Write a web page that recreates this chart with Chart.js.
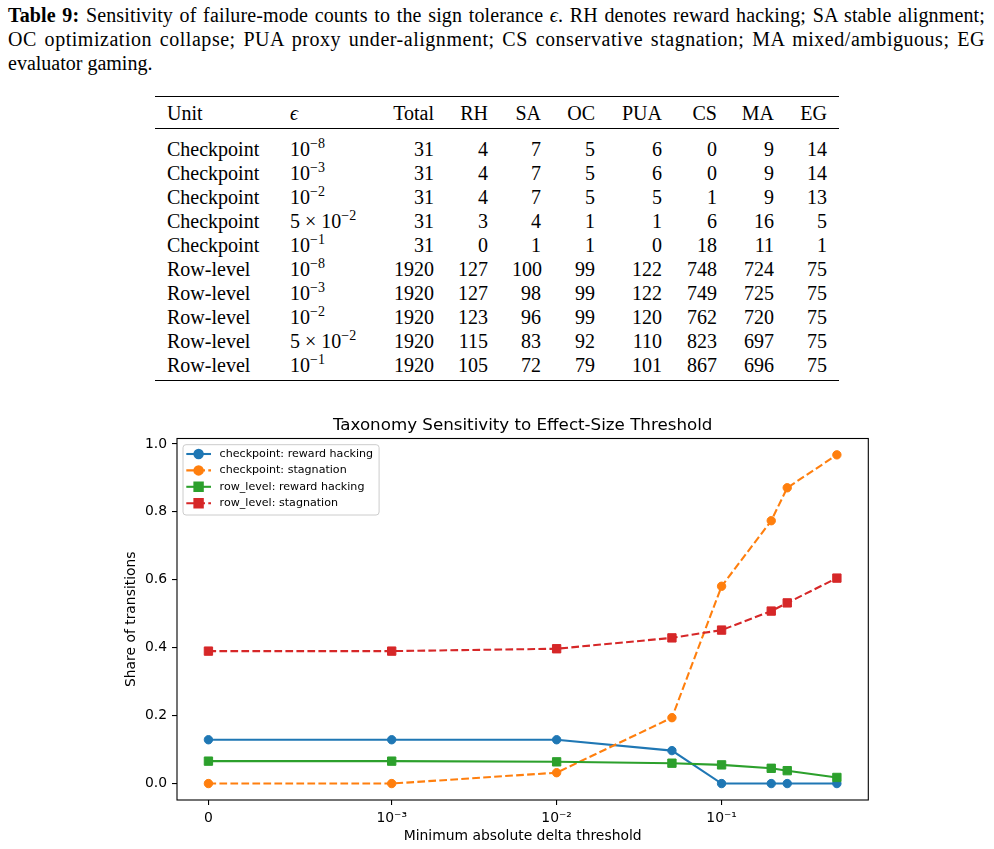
<!DOCTYPE html>
<html>
<head>
<meta charset="utf-8">
<script src="https://cdn.jsdelivr.net/npm/chart.js@4.4.1/dist/chart.umd.min.js"></script>
<style>
html, body { margin: 0; padding: 0; background: #fff; }
body { width: 994px; height: 849px; position: relative; overflow: hidden;
       font-family: "Liberation Serif", "Times New Roman", serif; color: #000; }
#caption { position: absolute; left: 8px; top: 3px; width: 977px; font-size: 20px; line-height: 24px; }
#caption .j { text-align: justify; text-align-last: justify; white-space: nowrap; }
#tbl { position: absolute; left: 155px; top: 96px; width: 684px; table-layout: fixed;
       border-collapse: collapse; font-size: 20px;
       border-top: 1.6px solid #000; border-bottom: 1.6px solid #000; }
#tbl th, #tbl td { padding: 0 12px; line-height: 24px; font-weight: normal; white-space: nowrap; text-align: right; }
#tbl th.l, #tbl td.l { text-align: left; }
#tbl thead th { padding-top: 4px; padding-bottom: 3px; border-bottom: 1px solid #000; }
#tbl tbody tr:first-child td { padding-top: 8px; }
#tbl tbody tr:last-child td { padding-bottom: 3px; }
.sup { font-size: 14px; position: relative; top: -8px; line-height: 0; }
#c { position: absolute; left: 0; top: 400px; }
</style>
</head>
<body>
<div id="caption">
  <div class="j"><b>Table 9:</b> Sensitivity of failure-mode counts to the sign tolerance <i>ϵ</i>. RH denotes reward hacking; SA stable alignment;</div>
  <div class="j">OC optimization collapse; PUA proxy under-alignment; CS conservative stagnation; MA mixed/ambiguous; EG</div>
  <div>evaluator gaming.</div>
</div>

<table id="tbl">
  <colgroup>
    <col style="width:123px"><col style="width:96px"><col style="width:72px"><col style="width:54px">
    <col style="width:53px"><col style="width:54px"><col style="width:67px"><col style="width:55px">
    <col style="width:57px"><col style="width:53px">
  </colgroup>
  <thead><tr id="head"></tr></thead>
  <tbody id="body"></tbody>
</table>

<canvas id="c" width="994" height="449"></canvas>

<script>
// tabel
const tableHeader = ['Unit', 'ϵ', 'Total', 'RH', 'SA', 'OC', 'PUA', 'CS', 'MA', 'EG'];
const tableUnits = ['Checkpoint', 'Checkpoint', 'Checkpoint', 'Checkpoint', 'Checkpoint',
                    'Row-level', 'Row-level', 'Row-level', 'Row-level', 'Row-level'];
const tableEpsBase = ['10', '10', '10', '5 × 10', '10', '10', '10', '10', '5 × 10', '10'];
const tableEpsExp = ['−8', '−3', '−2', '−2', '−1', '−8', '−3', '−2', '−2', '−1'];
const tableCounts = [
    [31, 4, 7, 5, 6, 0, 9, 14],
    [31, 4, 7, 5, 6, 0, 9, 14],
    [31, 4, 7, 5, 5, 1, 9, 13],
    [31, 3, 4, 1, 1, 6, 16, 5],
    [31, 0, 1, 1, 0, 18, 11, 1],
    [1920, 127, 100, 99, 122, 748, 724, 75],
    [1920, 127, 98, 99, 122, 749, 725, 75],
    [1920, 123, 96, 99, 120, 762, 720, 75],
    [1920, 115, 83, 92, 110, 823, 697, 75],
    [1920, 105, 72, 79, 101, 867, 696, 75]
];

// grafiek
const chartTitle = 'Taxonomy Sensitivity to Effect-Size Threshold';
const xTitle = 'Minimum absolute delta threshold';
const yTitle = 'Share of transitions';
const thresholds = [0, 0.001, 0.01, 0.05, 0.1, 0.2, 0.25, 0.5];
const ckptRewardHacking = [0.129, 0.129, 0.129, 0.097, 0, 0, 0, 0];
const ckptStagnation = [0, 0, 0.032, 0.194, 0.581, 0.774, 0.871, 0.968];
const rowRewardHacking = [0.066, 0.066, 0.064, 0.060, 0.055, 0.045, 0.038, 0.018];
const rowStagnation = [0.390, 0.390, 0.397, 0.429, 0.452, 0.508, 0.532, 0.605];
const seriesLabels = ['checkpoint: reward hacking', 'checkpoint: stagnation',
                      'row_level: reward hacking', 'row_level: stagnation'];
const xTickValues = [0, 0.001, 0.01, 0.1];
const xTickLabels = ['0', '10⁻³', '10⁻²', '10⁻¹'];
const yTickValues = [0, 0.2, 0.4, 0.6, 0.8, 1.0];
const yMin = -0.0484, yMax = 1.0161;

// bijschrift: per regel een kleine letterafstand, zodat de spaties niet te breed worden
const caption = document.getElementById('caption');
caption.querySelectorAll('.j').forEach(d => {
    const probe = document.createElement('span');
    probe.innerHTML = d.innerHTML;
    probe.style.whiteSpace = 'nowrap';
    probe.style.position = 'absolute';
    probe.style.visibility = 'hidden';
    caption.appendChild(probe);
    const w = probe.getBoundingClientRect().width;
    const n = d.textContent.trim().length;
    caption.removeChild(probe);
    const s = Math.min(0.6, Math.max(0, (977 - w - 25) / n));
    d.style.letterSpacing = s.toFixed(2) + 'px';
});

// tabel opbouwen
const headRow = document.getElementById('head');
tableHeader.forEach((h, i) => {
    const th = document.createElement('th');
    if (i < 2) th.className = 'l';
    if (i === 1) th.innerHTML = '<i>' + h + '</i>';
    else th.textContent = h;
    headRow.appendChild(th);
});
const tbody = document.getElementById('body');
tableUnits.forEach((u, r) => {
    const tr = document.createElement('tr');
    let html = '<td class="l">' + u + '</td>';
    html += '<td class="l">' + tableEpsBase[r] + '<span class="sup">' + tableEpsExp[r] + '</span></td>';
    tableCounts[r].forEach(v => { html += '<td>' + v + '</td>'; });
    tr.innerHTML = html;
    tbody.appendChild(tr);
});

// symlog schaal (linthresh 1e-3, linscale 1), zoals matplotlib
const SYM_C = 1e-3, SYM_K = 1 / (1 - 1 / 10);
function symT(v) {
    const a = Math.abs(v);
    return a <= SYM_C ? v / SYM_C * SYM_K : Math.sign(v) * (SYM_K + Math.log10(a / SYM_C));
}
function symInv(t) {
    const a = Math.abs(t);
    return a <= SYM_K ? t / SYM_K * SYM_C : Math.sign(t) * SYM_C * Math.pow(10, a - SYM_K);
}
class SymlogScale extends Chart.LinearScale {
    buildTicks() {
        return xTickValues.map(v => ({ value: v }));
    }
    configure() {
        super.configure();
        const a = symT(this.min), b = symT(this.max), m = (b - a) * 0.05;
        this._t0 = a - m;
        this._t1 = b + m;
    }
    getPixelForValue(v) {
        return this.getPixelForDecimal((symT(v) - this._t0) / (this._t1 - this._t0));
    }
    getValueForPixel(p) {
        return symInv(this._t0 + this.getDecimalForPixel(p) * (this._t1 - this._t0));
    }
}
SymlogScale.id = 'symlog';
Chart.register(SymlogScale);

const colors = ['#1f77b4', '#ff7f0e', '#2ca02c', '#d62728'];
const markers = ['circle', 'circle', 'rect', 'rect'];
const dashed = [false, true, false, true];
const values = [ckptRewardHacking, ckptStagnation, rowRewardHacking, rowStagnation];
const DASH = [7.7, 3.3];

const datasets = values.map((vals, i) => ({
    label: seriesLabels[i],
    data: thresholds.map((x, j) => ({ x: x, y: vals[j] })),
    borderColor: colors[i],
    backgroundColor: colors[i],
    borderWidth: 2.08,
    borderDash: dashed[i] ? DASH : [],
    pointStyle: markers[i],
    pointRadius: markers[i] === 'circle' ? 4.2 : 5.9,
    pointBorderWidth: 1,
    pointBackgroundColor: colors[i],
    pointBorderColor: colors[i],
    tension: 0,
    fill: false,
    order: 4 - i
}));

const tickFont = { family: 'DejaVu Sans', size: 13.9 };

// titel gecentreerd boven de assen, kader rond het plotgebied, legenda binnen de assen
const framePlugin = {
    id: 'frameAndLegend',
    afterDatasetsDraw(chart) {
        const ctx = chart.ctx, a = chart.chartArea;
        ctx.save();
        ctx.strokeStyle = '#000';
        ctx.lineWidth = 1.1;
        ctx.strokeRect(a.left, a.top, a.right - a.left, a.bottom - a.top);

        ctx.fillStyle = '#000';
        ctx.font = '16.7px "DejaVu Sans"';
        ctx.textAlign = 'center';
        ctx.textBaseline = 'alphabetic';
        ctx.fillText(chartTitle, (a.left + a.right) / 2, a.top - 8.3);

        // legenda
        ctx.font = '11.1px "DejaVu Sans"';
        let maxW = 0;
        seriesLabels.forEach(l => { maxW = Math.max(maxW, ctx.measureText(l).width); });
        const lx = a.left + 6, ly = a.top + 6.2;
        const w = 36.6 + maxW + 6, h = 70.3;
        ctx.beginPath();
        ctx.roundRect(lx, ly, w, h, 3);
        ctx.fillStyle = 'rgba(255,255,255,0.8)';
        ctx.fill();
        ctx.strokeStyle = '#cccccc';
        ctx.lineWidth = 1;
        ctx.stroke();
        seriesLabels.forEach((l, i) => {
            const y = ly + 9.3 + i * 16.4;
            ctx.strokeStyle = colors[i];
            ctx.lineWidth = 2.08;
            ctx.setLineDash(dashed[i] ? DASH : []);
            ctx.beginPath();
            ctx.moveTo(lx + 3.3, y);
            ctx.lineTo(lx + 28, y);
            ctx.stroke();
            ctx.setLineDash([]);
            ctx.fillStyle = colors[i];
            Chart.helpers.drawPoint(ctx, {
                pointStyle: markers[i],
                radius: markers[i] === 'circle' ? 4.2 : 5.9,
                borderWidth: 1
            }, lx + 15.6, y);
            ctx.fillStyle = '#000';
            ctx.textBaseline = 'middle';
            ctx.textAlign = 'left';
            ctx.fillText(l, lx + 36.6, y);
        });
        ctx.restore();
    }
};

new Chart(document.getElementById('c'), {
    type: 'line',
    data: { datasets: datasets },
    options: {
        responsive: false,
        animation: false,
        events: [],
        layout: { padding: { left: 0, right: 125.7, top: 38.5, bottom: 0 } },
        plugins: {
            legend: { display: false },
            tooltip: { enabled: false },
            title: { display: false }
        },
        scales: {
            x: {
                type: 'symlog',
                position: 'bottom',
                border: { display: false },
                grid: { drawOnChartArea: false, drawTicks: true, tickLength: 5, color: '#000', lineWidth: 1.1 },
                ticks: {
                    autoSkip: false, maxRotation: 0, padding: 5, color: '#000', font: tickFont,
                    callback: (v, i) => xTickLabels[i]
                },
                title: { display: true, text: xTitle, color: '#000', font: tickFont, padding: { top: 0, bottom: 4 } },
                afterFit: s => { s.height = 49; }
            },
            y: {
                type: 'linear',
                min: yMin,
                max: yMax,
                border: { display: false },
                grid: { drawOnChartArea: false, drawTicks: true, tickLength: 5, color: '#000', lineWidth: 1.1 },
                afterBuildTicks: s => { s.ticks = yTickValues.map(v => ({ value: v })); },
                ticks: { padding: 5, color: '#000', font: tickFont, callback: v => v.toFixed(1) },
                title: { display: true, text: yTitle, color: '#000', font: tickFont, padding: { top: 122.7, bottom: 0 } },
                afterFit: s => { s.width = 177; }
            }
        }
    },
    plugins: [framePlugin]
});
</script>
</body>
</html>
